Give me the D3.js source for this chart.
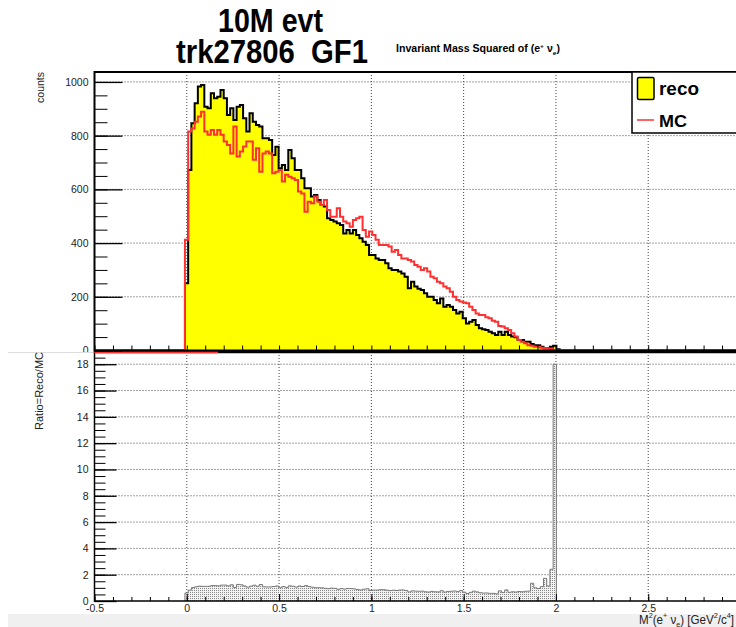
<!DOCTYPE html>
<html>
<head>
<meta charset="utf-8">
<script src="https://cdn.jsdelivr.net/npm/d3@7"></script>
<style>
body { margin: 0; background: #fff; }
svg { display: block; font-family: "Liberation Sans", Arial, sans-serif; }
</style>
</head>
<body>
<div id="chart"></div>
<script>
// histogram binning (first filled bin starts at -0.01, bins of 0.0175)
var binStart = -0.01, binWidth = 0.0175;

// reco counts per bin
var reco = [250,672,846,921,983,989,908,902,958,939,945,970,939,877,902,858,908,914,865,815,
  883,852,840,834,790,790,784,728,759,679,691,672,747,716,672,672,641,604,604,573,
  579,560,542,536,492,486,480,474,467,436,449,436,449,430,418,405,393,356,356,343,
  337,337,325,306,300,300,294,287,275,232,256,238,230,225,213,200,200,188,176,194,
  163,169,163,151,138,144,120,101,107,114,95,83,79,76,70,64,58,70,58,70,
  58,52,49,39,39,33,33,24,20,20,14,8,8,14,18,5];

// MC counts per bin
var mc = [412,815,827,852,871,889,815,803,821,803,821,803,778,765,734,834,722,741,760,778,
  778,710,753,666,734,741,734,660,666,672,629,654,647,641,635,592,585,517,554,548,
  573,554,542,560,523,498,498,530,498,480,474,461,486,492,498,449,424,443,430,412,
  393,393,393,387,368,374,356,343,343,337,331,318,312,300,306,294,275,269,256,250,
  238,232,219,200,188,182,179,176,163,151,138,132,132,124,120,111,107,91,89,83,
  76,64,52,39,33,27,20,18,14,14,10,8,7,6,1,0];

// Reco/MC ratio per bin
var ratio = [0.61,0.82,1.02,1.08,1.13,1.11,1.11,1.12,1.17,1.17,1.15,1.21,1.21,1.15,1.23,1.03,1.26,1.23,1.14,1.05,
  1.13,1.20,1.12,1.25,1.08,1.07,1.07,1.10,1.14,1.01,1.10,1.03,1.15,1.12,1.06,1.14,1.10,1.17,1.09,1.05,
  1.01,1.01,1.00,0.96,0.94,0.98,0.96,0.89,0.94,0.91,0.95,0.95,0.92,0.87,0.84,0.90,0.93,0.80,0.83,0.83,
  0.86,0.86,0.83,0.79,0.82,0.80,0.83,0.84,0.80,0.69,0.77,0.75,0.74,0.75,0.70,0.68,0.73,0.70,0.69,0.78,
  0.68,0.73,0.74,0.76,0.73,0.79,0.67,0.57,0.66,0.75,0.69,0.63,0.60,0.61,0.58,0.58,0.54,0.77,0.65,0.84,
  0.66,0.70,0.68,0.72,0.70,0.74,0.75,1.35,1.00,0.95,1.09,1.72,1.14,2.41,18.0];

var xTicks = [-0.5, 0, 0.5, 1, 1.5, 2, 2.5];
var countTicks = [0, 200, 400, 600, 800, 1000];
var ratioTicks = [0, 2, 4, 6, 8, 10, 12, 14, 16, 18];

var width = 736, height = 627;
var svg = d3.select("#chart").append("svg")
    .attr("width", width)
    .attr("height", height);

var x = d3.scaleLinear().domain([-0.5, 3.0]).range([94.5, 740.5]);
var yTop = d3.scaleLinear().domain([0, 1037]).range([350.5, 72]);
var yRat = d3.scaleLinear().domain([0, 18.93]).range([601, 352]);

var defs = svg.append("defs");
defs.append("clipPath").attr("id", "clipTop").append("rect")
    .attr("x", x(-0.5)).attr("y", yTop(1037)).attr("width", x(3) - x(-0.5)).attr("height", yTop(0) - yTop(1037));
defs.append("clipPath").attr("id", "clipBot").append("rect")
    .attr("x", x(-0.5)).attr("y", yRat(18.93)).attr("width", x(3) - x(-0.5)).attr("height", yRat(0) - yRat(18.93));
var pat = defs.append("pattern").attr("id", "dots")
    .attr("patternUnits", "userSpaceOnUse").attr("width", 2).attr("height", 2);
pat.append("rect").attr("width", 2).attr("height", 2).attr("fill", "#f2f2f2");
pat.append("rect").attr("width", 1).attr("height", 1).attr("fill", "#8a8a8a");

// step path points for a list of bin values
function steps(vals, from, to) {
  var pts = [[from, 0], [binStart, 0]];
  vals.forEach(function(v, i) {
    var lo = binStart + i * binWidth;
    pts.push([lo, v], [lo + binWidth, v]);
  });
  pts.push([binStart + vals.length * binWidth, 0], [to, 0]);
  return pts;
}

function rich(sel, parts, size) {
  var cur = 0;
  parts.forEach(function(p) {
    var target = p[1] == "sup" ? -size * 0.42 : (p[1] == "sub" ? size * 0.25 : 0);
    var t = sel.append("tspan").text(p[0]).attr("dy", target - cur);
    if (p[1]) t.style("font-size", (size * 0.62) + "px");
    cur = target;
  });
}

function dotted(g, x1, x2, y1, y2) {
  g.append("line").attr("x1", x1).attr("x2", x2).attr("y1", y1).attr("y2", y2)
    .attr("stroke", "#444").attr("stroke-width", 1).attr("stroke-dasharray", "1,2");
}

function styleLabels(g) {
  g.select(".domain").remove();
  g.selectAll("text").style("font-size", "10.5px")
    .style("font-family", "Liberation Sans, Arial, sans-serif").attr("fill", "#222");
}

// ---------- upper pad ----------
var upper = svg.append("g");
var gridTop = upper.append("g");
xTicks.slice(1).forEach(function(t) { dotted(gridTop, x(t), x(t), yTop(1037), yTop(0)); });
countTicks.slice(1).forEach(function(t) { dotted(gridTop, x(-0.5), x(3), yTop(t), yTop(t)); });

var lineTop = d3.line().x(function(d) { return x(d[0]); }).y(function(d) { return yTop(d[1]); });
var hg = upper.append("g").attr("clip-path", "url(#clipTop)");
hg.append("path").attr("d", lineTop(steps(reco, -0.5, 3.0)))
    .attr("fill", "#ffff00").attr("stroke", "#000").attr("stroke-width", 2);
hg.append("path").attr("d", lineTop(steps(mc, -0.5, 3.0)))
    .attr("fill", "none").attr("stroke", "#ff3030").attr("stroke-width", 2);

// y axis (counts)
upper.append("g").attr("transform", "translate(" + x(-0.5) + ",0)")
    .call(d3.axisLeft(yTop).tickValues(d3.range(0, 1037, 50)).tickSizeInner(-13).tickSizeOuter(0).tickFormat(""))
    .call(function(g) { g.select(".domain").remove(); });
upper.append("g").attr("transform", "translate(" + x(-0.5) + ",0)")
    .call(d3.axisLeft(yTop).tickValues(countTicks).tickSizeInner(-28).tickSizeOuter(0).tickPadding(6)
      .tickFormat(d3.format("d")))
    .call(function(g) { styleLabels(g); g.selectAll("line").attr("stroke-width", 1.3); });
// x ticks along upper pad bottom
upper.append("g").attr("transform", "translate(0," + yTop(0) + ")")
    .call(d3.axisBottom(x).tickValues(d3.range(-0.5, 3.0, 0.1)).tickSizeInner(-5).tickSizeOuter(0).tickFormat(""))
    .call(function(g) { g.select(".domain").remove(); });

upper.append("rect").attr("x", x(-0.5)).attr("y", yTop(1037))
    .attr("width", x(3) - x(-0.5)).attr("height", yTop(0) - yTop(1037))
    .attr("fill", "none").attr("stroke", "#000").attr("stroke-width", 2);

upper.append("text").attr("transform", "translate(43.5," + yTop(1037) + ") rotate(-90)")
    .attr("text-anchor", "end").style("font-size", "10.5px").attr("fill", "#222").text("counts");

// legend
var leg = upper.append("g");
leg.append("rect").attr("x", 632).attr("y", 72).attr("width", 120).attr("height", 61)
    .attr("fill", "#fff").attr("stroke", "#000").attr("stroke-width", 1.5);
leg.append("rect").attr("x", 637.5).attr("y", 77.5).attr("width", 16.5).attr("height", 22).attr("rx", 1.5)
    .attr("fill", "#ffff00").attr("stroke", "#000").attr("stroke-width", 1.5);
leg.append("line").attr("x1", 637).attr("x2", 654).attr("y1", 120).attr("y2", 120)
    .attr("stroke", "#ff3030").attr("stroke-width", 1.5);
leg.append("text").attr("x", 659).attr("y", 95).style("font-size", "19px").style("font-weight", "bold")
    .attr("textLength", 40).attr("lengthAdjust", "spacingAndGlyphs").text("reco");
leg.append("text").attr("x", 659).attr("y", 126.5).style("font-size", "17px").style("font-weight", "bold")
    .attr("textLength", 28).attr("lengthAdjust", "spacingAndGlyphs").text("MC");

// ---------- lower pad ----------
svg.append("rect").attr("x", 8).attr("y", 352.5).attr("width", width - 8).attr("height", 614 - 352.5)
    .attr("fill", "#fff");
svg.append("rect").attr("x", 8).attr("y", 614).attr("width", width - 8).attr("height", height - 614)
    .attr("fill", "#f0f0f0");
svg.append("line").attr("x1", 8).attr("x2", x(-0.5)).attr("y1", 352.5).attr("y2", 352.5)
    .attr("stroke", "#ddd");

var lower = svg.append("g");
var gridBot = lower.append("g");
xTicks.slice(1).forEach(function(t) { dotted(gridBot, x(t), x(t), yRat(18.93), yRat(0)); });
ratioTicks.slice(1).forEach(function(t) { dotted(gridBot, x(-0.5), x(3), yRat(t), yRat(t)); });

var lineBot = d3.line().x(function(d) { return x(d[0]); }).y(function(d) { return yRat(d[1]); });
var rPts = steps(ratio, binStart, binStart + ratio.length * binWidth);
lower.append("g").attr("clip-path", "url(#clipBot)").append("path")
    .attr("d", lineBot(rPts))
    .attr("fill", "url(#dots)").attr("stroke", "#777").attr("stroke-width", 1);

lower.append("g").attr("transform", "translate(" + x(-0.5) + ",0)")
    .call(d3.axisLeft(yRat).tickValues(d3.range(0, 18.9, 0.5)).tickSizeInner(-11).tickSizeOuter(0).tickFormat(""))
    .call(function(g) { g.select(".domain").remove(); });
lower.append("g").attr("transform", "translate(" + x(-0.5) + ",0)")
    .call(d3.axisLeft(yRat).tickValues(ratioTicks).tickSizeInner(-22).tickSizeOuter(0).tickPadding(6))
    .call(function(g) { styleLabels(g); g.selectAll("line").attr("stroke-width", 1.3); });
lower.append("g").attr("transform", "translate(0," + yRat(0) + ")")
    .call(d3.axisBottom(x).tickValues(d3.range(-0.5, 3.0, 0.1)).tickSizeInner(-4).tickSizeOuter(0).tickFormat(""))
    .call(function(g) { g.select(".domain").remove(); });
lower.append("g").attr("transform", "translate(0," + yRat(0) + ")")
    .call(d3.axisBottom(x).tickValues(xTicks).tickSizeInner(-7).tickSizeOuter(0).tickPadding(4)
      .tickFormat(function(d) { return d3.format("")(d).replace("\u2212", "-"); }))
    .call(styleLabels);

lower.append("rect").attr("x", x(-0.5)).attr("y", yRat(18.93))
    .attr("width", x(3) - x(-0.5)).attr("height", yRat(0) - yRat(18.93))
    .attr("fill", "none").attr("stroke", "#000").attr("stroke-width", 1.5);

// zero lines along the pad join
svg.append("line").attr("x1", x(-0.5)).attr("x2", x(0.17)).attr("y1", 352.8).attr("y2", 352.8)
    .attr("stroke", "#ff3030").attr("stroke-width", 1.5);
svg.append("line").attr("x1", x(0.17)).attr("x2", x(3)).attr("y1", 352).attr("y2", 352)
    .attr("stroke", "#000").attr("stroke-width", 2.5);

lower.append("text").attr("transform", "translate(43," + yRat(18.93) + ") rotate(-90)")
    .attr("text-anchor", "end").style("font-size", "11px").attr("fill", "#222").text("Ratio=Reco/MC");

var xt = lower.append("text").attr("x", 639).attr("y", 623.5)
    .style("font-size", "12px").attr("fill", "#222")
    .attr("textLength", 95).attr("lengthAdjust", "spacingAndGlyphs");
rich(xt, [["M", ""], ["2", "sup"], ["(e", ""], ["+", "sup"], [" \u03bd", ""], ["e", "sub"], [") [GeV", ""], ["2", "sup"], ["/c", ""], ["4", "sup"], ["]", ""]], 12);

// ---------- titles ----------
svg.append("text").attr("x", 218).attr("y", 32).style("font-size", "33px").style("font-weight", "bold")
    .attr("textLength", 105).attr("lengthAdjust", "spacingAndGlyphs").text("10M evt");
svg.append("text").attr("x", 176).attr("y", 63).style("font-size", "33px").style("font-weight", "bold")
    .style("white-space", "pre").attr("textLength", 192).attr("lengthAdjust", "spacingAndGlyphs")
    .text("trk27806  GF1");
var sub = svg.append("text").attr("x", 396).attr("y", 52).style("font-size", "10px").style("font-weight", "bold")
    .attr("textLength", 164).attr("lengthAdjust", "spacingAndGlyphs");
rich(sub, [["Invariant Mass Squared of (e", ""], ["+", "sup"], ["  \u03bd", ""], ["e", "sub"], [")", ""]], 10);
</script>
</body>
</html>
